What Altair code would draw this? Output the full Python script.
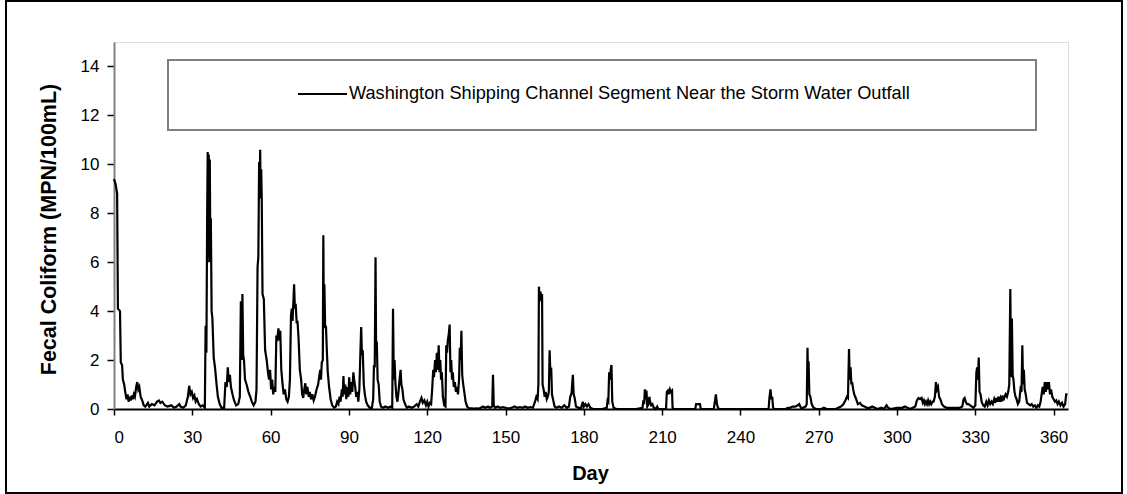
import altair as alt
import pandas as pd

days = [
    0, 0.6, 1.2, 1.5, 2.3, 2.6, 3.1, 3.4, 3.9, 4.3, 4.8, 5.2, 5.6, 6.0, 6.4, 6.8, 7.2, 7.6, 8.0, 8.5,
    8.9, 9.3, 9.7, 10.2, 10.8, 11.4, 12, 13, 13.5, 14.5, 15.5, 16.5, 17.2, 17.8, 18.5, 19.5, 20.5, 22, 23, 24,
    25, 25.5, 26.5, 27.5, 28.3, 28.8, 29.3, 29.8, 30.3, 30.8, 31.3, 31.8, 32.5, 33.2, 34, 34.8, 35.1, 35.4, 35.7, 35.9,
    36.1, 36.3, 36.5, 36.7, 36.9, 37.1, 37.4, 37.7, 38.2, 38.7, 39.3, 39.8, 40.5, 41.2, 42.2, 42.7, 43.2, 43.6, 44.0, 44.4,
    44.8, 45.4, 46.0, 46.8, 47.6, 48.2, 48.6, 48.9, 49.2, 49.5, 49.8, 50.2, 50.8, 51.5, 52.2, 52.8, 53.5, 54.2, 54.6, 55.0,
    55.3, 55.6, 55.8, 56.0, 56.2, 56.4, 56.6, 56.9, 57.4, 57.9, 58.5, 59.0, 59.4, 59.8, 60.2, 60.6, 61.0, 61.4, 61.8, 62.2,
    62.6, 63.0, 63.4, 63.7, 64.1, 64.6, 65.0, 65.5, 66.0, 66.5, 67.0, 67.4, 67.8, 68.1, 68.4, 68.7, 69.0, 69.3, 69.6, 70.0,
    70.3, 70.7, 71.2, 71.7, 72.1, 72.5, 72.9, 73.3, 73.7, 74.1, 74.6, 75.0, 75.5, 76.0, 76.5, 77.0, 77.6, 78.2, 78.6, 79.0,
    79.3, 79.6, 80.0, 80.2, 80.4, 80.6, 80.9, 81.2, 81.5, 81.9, 82.4, 83.0, 83.6, 84.3, 85.0, 85.5, 86.0, 86.4, 86.8, 87.3,
    87.6, 87.9, 88.2, 88.6, 89.0, 89.4, 89.8, 90.1, 90.5, 90.9, 91.3, 91.7, 92.0, 92.4, 92.8, 93.2, 93.6, 94.0, 94.4, 94.7,
    95.0, 95.3, 95.7, 96.1, 96.6, 97.2, 98.0, 98.8, 99.3, 99.6, 99.9, 100.2, 100.4, 100.7, 101.0, 101.4, 101.8, 102.3, 103.0, 104.0,
    105.0, 106.0, 106.6, 106.9, 107.2, 107.5, 107.8, 108.2, 108.6, 109.0, 109.4, 109.8, 110.1, 110.5, 110.9, 111.5, 112.2, 113, 114, 115,
    116, 116.6, 117.2, 117.8, 118.3, 118.9, 119.5, 120.0, 120.5, 121.0, 121.5, 121.9, 122.3, 122.6, 123.0, 123.3, 123.7, 124.0, 124.4, 124.7,
    125.0, 125.3, 125.6, 126.0, 126.5, 127.0, 127.3, 127.6, 127.9, 128.3, 128.6, 128.9, 129.2, 129.5, 129.8, 130.2, 130.6, 131.0, 131.4, 131.8,
    132.2, 132.5, 132.8, 133.1, 133.4, 133.8, 134.2, 134.7, 135.3, 136, 137, 138, 139, 140, 141.4, 142.2, 143.3, 144.0, 144.9, 145.2,
    145.5, 146.0, 147.0, 148.0, 149.0, 150.0, 151.0, 152.3, 153.5, 154.5, 155.5, 156.5, 157.5, 158.5, 159.5, 160.5, 161.3, 161.8, 162.3, 162.6,
    162.8, 163.1, 163.4, 163.7, 164.0, 164.2, 164.6, 165.0, 165.4, 165.8, 166.2, 166.6, 166.9, 167.2, 167.5, 167.8, 168.2, 168.8, 169.5, 170.5,
    171.5, 172.5, 173.5, 174.3, 174.8, 175.3, 175.8, 176.1, 176.5, 177.0, 178.0, 179.0, 179.6, 180.0, 180.6, 181.2, 181.8, 182.5, 183.5, 185,
    187, 188.8, 189.1, 189.4, 189.7, 190.0, 190.3, 190.6, 190.9, 191.4, 192.5, 195, 198, 200, 202.5, 202.8, 203.1, 203.4, 203.7, 204.0,
    204.3, 204.8, 205.1, 205.4, 205.8, 206.3, 206.8, 207.5, 208.1, 208.5, 211.5, 211.8, 212.2, 212.6, 213.0, 213.4, 213.8, 214.0, 214.5, 222.7,
    223.0, 224.5, 224.8, 229.8, 230.2, 230.6, 231.0, 231.4, 232, 250.8, 251.1, 251.5, 251.9, 252.2, 252.5, 253, 257.5, 258, 259, 260,
    261, 262, 262.5, 263.2, 264, 265.0, 265.4, 265.7, 265.9, 266.1, 266.4, 266.8, 267.3, 268.0, 269, 271, 272, 273, 276.5, 277.5,
    278.5, 279.5, 280.2, 280.8, 281.2, 281.6, 281.9, 282.2, 282.5, 282.8, 283.2, 283.6, 284.0, 284.5, 285.0, 285.8, 286.5, 287.5, 288.5, 289.5,
    290.5, 291.5, 292.5, 294, 295, 296.0, 296.6, 297.5, 300, 302, 303, 304, 305, 306, 307.0, 307.6, 308.2, 308.8, 309.4, 309.9,
    310.3, 310.7, 311.1, 311.5, 311.9, 312.3, 312.7, 313.1, 313.6, 314.0, 314.5, 314.9, 315.3, 315.7, 316.1, 316.6, 317.2, 318.0, 319, 320,
    321, 322, 323, 324, 325.0, 325.5, 325.9, 326.3, 326.8, 327.4, 328.0, 328.7, 329.3, 330.0, 330.4, 330.7, 331.0, 331.3, 331.6, 332.0,
    332.4, 333.0, 333.6, 334.2, 334.7, 335.2, 335.7, 336.2, 336.7, 337.2, 337.6, 338.0, 338.4, 338.8, 339.2, 339.6, 340.0, 340.4, 340.8, 341.2,
    341.6, 342.1, 342.6, 343.0, 343.4, 343.7, 344.0, 344.3, 344.6, 345.0, 345.4, 345.8, 346.3, 346.8, 347.3, 347.7, 348.0, 348.3, 348.6, 348.9,
    349.3, 349.8, 350.4, 351.0, 351.6, 352.2, 352.8, 353.4, 354.0, 354.5, 355.0, 355.4, 355.8, 356.2, 356.6, 357.0, 357.4, 357.8, 358.2, 358.6,
    359.0, 359.5, 360.0, 360.5, 361.0, 361.5, 362.0, 362.6, 363.2, 363.8, 364.4, 364.8, 365.3,
]

values = [
    9.4, 9.2, 8.8, 4.1, 4.0, 1.9, 1.8, 1.2, 1.0, 0.7, 0.4, 0.6, 0.3, 0.5, 0.35, 0.55, 0.4, 0.6, 0.5, 0.9,
    1.1, 0.8, 0.9, 0.5, 0.35, 0.15, 0.1, 0.25, 0.1, 0.2, 0.15, 0.3, 0.35, 0.25, 0.3, 0.15, 0.1, 0.15, 0.05, 0.1,
    0.2, 0.1, 0.05, 0.15, 0.5, 0.95, 0.6, 0.7, 0.45, 0.55, 0.3, 0.4, 0.2, 0.1, 0.15, 0.05, 3.4, 2.3, 8.0, 10.5,
    6.2, 10.4, 6.0, 10.2, 6.5, 7.8, 4.0, 3.7, 2.1, 1.7, 1.0, 0.5, 0.2, 0.05, 0.05, 1.1, 0.9, 1.7, 1.1, 1.4,
    0.9, 0.6, 0.35, 0.15, 0.2, 0.5, 4.4, 2.0, 4.7, 2.2, 2.0, 1.2, 1.0, 0.7, 0.5, 0.3, 0.15, 0.3, 0.8, 5.8,
    6.2, 10.1, 9.0, 10.6, 8.6, 9.8, 8.6, 4.7, 4.5, 2.4, 2.0, 1.5, 1.2, 1.6, 0.8, 1.2, 0.6, 0.9, 0.7, 3.0,
    2.9, 3.3, 2.8, 3.2, 1.6, 1.0, 0.6, 0.8, 0.4, 0.3, 0.5, 1.2, 3.8, 4.1, 3.6, 4.3, 5.1, 4.1, 4.3, 3.5,
    3.6, 2.9, 1.6, 1.2, 0.6, 0.45, 0.8, 1.05, 0.6, 0.9, 0.5, 0.7, 0.4, 0.6, 0.35, 0.5, 0.8, 1.0, 1.3, 1.6,
    1.2, 1.9, 2.0, 7.1, 3.5, 5.1, 3.3, 3.4, 2.5, 1.5, 0.9, 0.4, 0.15, 0.05, 0.1, 0.3, 0.2, 0.5, 0.3, 0.8,
    0.5, 1.35, 0.6, 1.0, 0.4, 0.9, 0.5, 1.3, 0.6, 1.1, 0.7, 1.5, 1.2, 0.9, 0.5, 0.7, 0.3, 0.8, 2.3, 3.35,
    2.2, 2.4, 1.0, 0.6, 0.3, 0.15, 0.05, 0.05, 0.4, 1.8, 1.7, 6.2, 2.8, 2.7, 1.2, 1.0, 0.3, 0.1, 0.05, 0.1,
    0.05, 0.1, 0.05, 4.1, 1.2, 2.0, 1.1, 0.5, 0.3, 0.7, 1.2, 1.6, 1.0, 0.8, 0.4, 0.2, 0.05, 0.1, 0.05, 0.1,
    0.2, 0.1, 0.3, 0.45, 0.25, 0.35, 0.15, 0.3, 0.1, 0.25, 0.2, 0.8, 1.6, 1.3, 2.0, 1.5, 2.3, 1.6, 2.6, 1.5,
    2.0, 1.2, 1.5, 0.5, 0.15, 0.1, 2.6, 2.3, 2.8, 3.1, 3.45, 1.5, 2.0, 1.2, 1.5, 0.9, 1.1, 0.7, 0.9, 0.6,
    1.2, 2.5, 2.0, 3.2, 1.4, 1.0, 0.7, 0.3, 0.1, 0.03, 0.03, 0.02, 0.03, 0.02, 0.1, 0.05, 0.1, 0.05, 0.1, 1.4,
    0.15, 0.05, 0.1, 0.05, 0.08, 0.05, 0.02, 0.05, 0.1, 0.05, 0.08, 0.05, 0.1, 0.05, 0.08, 0.05, 0.3, 0.5, 0.4, 1.0,
    5.0, 4.4, 4.8, 4.5, 4.7, 1.0, 0.8, 0.5, 0.7, 0.4, 0.5, 0.7, 2.4, 1.4, 1.7, 0.6, 0.4, 0.1, 0.05, 0.1,
    0.05, 0.15, 0.05, 0.1, 0.5, 0.65, 1.4, 0.6, 0.45, 0.1, 0.05, 0.05, 0.3, 0.1, 0.2, 0.1, 0.2, 0.05, 0.0, 0.0,
    0.0, 0.05, 0.35, 0.3, 1.5, 1.2, 1.6, 1.8, 0.3, 0.05, 0.0, 0.0, 0.0, 0.0, 0.05, 0.35, 0.2, 0.8, 0.4, 0.75,
    0.1, 0.2, 0.5, 0.3, 0.15, 0.2, 0.05, 0.0, 0.1, 0.0, 0.0, 0.7, 0.75, 0.6, 0.8, 0.7, 0.75, 0.05, 0.0, 0.0,
    0.2, 0.2, 0.0, 0.0, 0.3, 0.6, 0.2, 0.05, 0.0, 0.0, 0.45, 0.8, 0.4, 0.5, 0.05, 0.0, 0.0, 0.05, 0.05, 0.1,
    0.1, 0.15, 0.2, 0.05, 0.05, 0.1, 0.2, 2.5, 1.0, 1.95, 0.6, 0.5, 0.2, 0.05, 0.0, 0.0, 0.05, 0.0, 0.0, 0.05,
    0.1, 0.2, 0.35, 0.5, 0.45, 2.45, 1.2, 1.7, 1.0, 1.1, 0.8, 0.6, 0.5, 0.35, 0.2, 0.25, 0.15, 0.1, 0.05, 0.05,
    0.1, 0.05, 0.0, 0.05, 0.0, 0.15, 0.05, 0.0, 0.05, 0.05, 0.1, 0.05, 0.0, 0.05, 0.1, 0.35, 0.45, 0.4, 0.45, 0.25,
    0.35, 0.2, 0.3, 0.2, 0.35, 0.2, 0.3, 0.2, 0.3, 0.3, 0.5, 1.1, 0.8, 0.9, 0.5, 0.4, 0.2, 0.1, 0.05, 0.05,
    0.05, 0.05, 0.05, 0.05, 0.1, 0.4, 0.45, 0.3, 0.2, 0.2, 0.15, 0.1, 0.05, 0.15, 1.5, 1.7, 1.2, 2.1, 0.7, 0.6,
    0.3, 0.15, 0.1, 0.3, 0.15, 0.35, 0.2, 0.3, 0.2, 0.4, 0.25, 0.45, 0.3, 0.5, 0.3, 0.45, 0.3, 0.55, 0.35, 0.5,
    0.6, 0.5, 0.7, 1.0, 4.9, 1.3, 3.7, 1.4, 1.2, 0.7, 0.5, 0.4, 0.2, 0.3, 0.8, 0.7, 2.6, 1.0, 1.6, 0.8,
    0.6, 0.25, 0.2, 0.15, 0.2, 0.1, 0.15, 0.05, 0.15, 0.1, 0.3, 0.6, 0.9, 0.6, 1.1, 0.7, 1.1, 0.8, 1.1, 0.6,
    0.8, 0.5, 0.4, 0.3, 0.35, 0.2, 0.3, 0.15, 0.25, 0.1, 0.2, 0.6, 0.6,
]

x_ticks = [0, 30, 60, 90, 120, 150, 180, 210, 240, 270, 300, 330, 360]
y_ticks = [0, 2, 4, 6, 8, 10, 12, 14]
series_name = "Washington Shipping Channel Segment Near the Storm Water Outfall"

FONT = "Liberation Sans"
W, H = 954, 367

df = pd.DataFrame({"day": days, "value": values})

line = alt.Chart(df).mark_line(color="black", strokeWidth=2.2).encode(
    x=alt.X("day:Q", scale=alt.Scale(domain=[0, 365.5], nice=False, zero=False),
            axis=alt.Axis(values=x_ticks, title="Day", grid=False, tickSize=6,
                          labelFontSize=17, labelFont=FONT, labelColor="black",
                          labelPadding=14, domainColor="black", domainWidth=2,
                          tickColor="black", tickWidth=1.5,
                          titleFont=FONT, titleFontSize=20, titleFontWeight="bold",
                          titleColor="black", titleX=476, titleY=70,
                          titleBaseline="alphabetic")),
    y=alt.Y("value:Q", scale=alt.Scale(domain=[0, 15], nice=False),
            axis=alt.Axis(values=y_ticks, title="Fecal Coliform (MPN/100mL)", grid=False,
                          tickSize=7, labelFontSize=17, labelFont=FONT, labelColor="black",
                          labelPadding=8, domainColor="#808080", domainWidth=2,
                          tickColor="black", tickWidth=1.5,
                          titleFont=FONT, titleFontSize=21.5, titleFontWeight="bold",
                          titleColor="black", titleX=-59, titleY=187,
                          titleAngle=270, titleAlign="center",
                          titleBaseline="alphabetic")),
    order="day:Q",
)

legend_df = pd.DataFrame({"label": [series_name]})

legend_box = alt.Chart(legend_df).mark_rect(
    fill="white", stroke="#808080", strokeWidth=2
).encode(x=alt.value(54), x2=alt.value(922), y=alt.value(18), y2=alt.value(88))

legend_line = alt.Chart(legend_df).mark_rule(color="black", strokeWidth=2).encode(
    x=alt.value(184), x2=alt.value(233), y=alt.value(52)
)

legend_text = alt.Chart(legend_df).mark_text(
    align="left", baseline="middle", font=FONT, fontSize=18.2, color="black"
).encode(x=alt.value(235), y=alt.value(52), text="label:N")

outer = alt.Chart(legend_df).mark_rect(
    fill=None, stroke="black", strokeWidth=2
).encode(x=alt.value(-108), x2=alt.value(1008), y=alt.value(-41), y2=alt.value(451))

chart = alt.layer(outer, line, legend_box, legend_line, legend_text).properties(
    width=W, height=H,
    padding={"left": 114, "top": 42, "right": 59, "bottom": 85},
    autosize=alt.AutoSizeParams(type="none"),
).configure_view(stroke="#808080", strokeWidth=2).configure(background="white")

chart.save("out.html", embed_options={"renderer": "svg", "actions": False})
